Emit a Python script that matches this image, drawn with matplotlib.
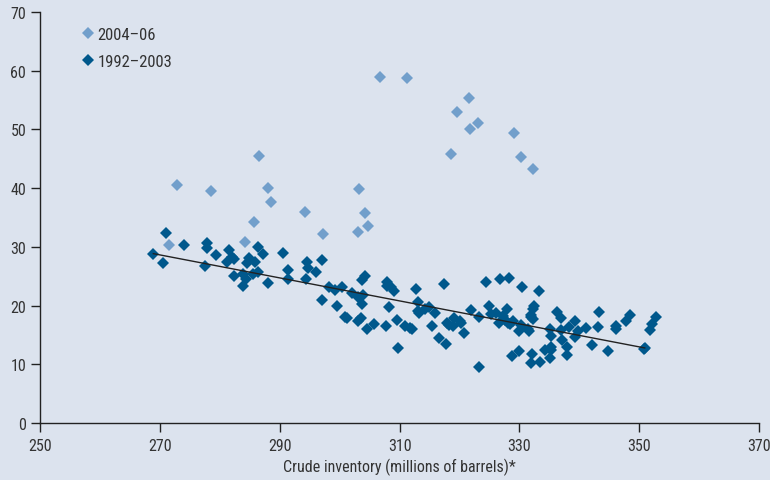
import numpy as np
import matplotlib
matplotlib.use('Agg')
import matplotlib.pyplot as plt

# 2004-06
x_new = [272.8, 271.5, 278.5, 284.2, 285.7, 286.5, 288.0, 288.5, 294.2, 297.2,
         303.0, 303.3, 304.3, 304.7, 306.8, 311.2, 318.5, 319.5, 321.5, 321.7,
         323.0, 329.0, 330.3, 332.3]
y_new = [40.5, 30.3, 39.5, 30.8, 34.2, 45.5, 40.0, 37.6, 35.9, 32.2,
         32.5, 39.9, 35.8, 33.6, 58.9, 58.8, 45.8, 53.0, 55.4, 50.1,
         51.1, 49.4, 45.3, 43.3]

# 1992-2003
x_old = [268.9, 271.05, 270.6, 274.0, 277.8, 277.8, 277.6, 279.4, 281.5, 282.1,
         282.3, 281.2, 282.4, 283.8, 283.8, 284.4, 284.8, 284.6, 285.8, 285.6,
         286.4, 286.4, 287.2, 288.0, 290.5, 291.4, 291.3, 294.6, 294.7, 294.3,
         297.0, 296.1, 298.2, 299.2, 300.4, 297.0, 299.6, 302.0, 303.1, 303.9,
         303.8, 304.2, 303.7, 300.9, 301.2, 303.1, 303.6, 304.5, 305.7, 307.7,
         308.3, 307.9, 307.9, 308.5, 309.1, 309.6, 309.7, 310.9, 311.8, 312.1,
         312.7, 313.0, 313.1, 313.2, 314.3, 314.9, 315.9, 315.4, 316.6, 317.7,
         317.4, 317.9, 318.3, 318.9, 319.1, 320.1, 320.3, 320.7, 321.9, 323.3,
         323.3, 324.4, 324.9, 325.2, 326.1, 326.5, 326.8, 328.2, 327.2, 327.9,
         327.6, 328.1, 328.4, 328.9, 330.4, 333.3, 332.4, 332.3, 332.0, 332.2,
         331.9, 330.3, 330.0, 331.4, 331.6, 328.8, 330.0, 332.1, 332.0, 333.4,
         334.3, 335.2, 335.2, 335.1, 335.1, 335.3, 336.2, 336.9, 337.1, 337.0,
         337.9, 337.9, 338.3, 339.3, 339.8, 339.2, 341.1, 342.1, 343.3, 343.1,
         344.8, 346.1, 346.1, 347.8, 348.5, 350.9, 350.7, 352.7, 352.1, 351.7]
y_old = [28.7, 32.3, 27.2, 30.4, 30.7, 29.8, 26.8, 28.6, 29.4, 28.2,
         28.0, 27.5, 25.1, 25.4, 23.3, 24.5, 28.1, 27.3, 27.5, 25.3,
         30.0, 25.8, 28.8, 23.8, 29.0, 26.1, 24.6, 27.5, 26.4, 24.6,
         27.8, 25.8, 23.2, 22.7, 23.2, 21.0, 20.0, 22.1, 21.5, 21.8,
         20.2, 25.0, 24.4, 18.0, 17.8, 17.4, 17.8, 16.0, 16.9, 16.6,
         19.7, 24.0, 23.4, 23.1, 22.5, 17.5, 12.8, 16.5, 16.1, 16.0,
         22.8, 20.6, 19.0, 18.8, 19.4, 19.7, 18.8, 16.6, 14.4, 13.4,
         23.6, 17.0, 16.7, 16.6, 17.9, 17.4, 17.0, 15.4, 19.3, 9.5,
         18.0, 24.0, 19.9, 18.6, 18.7, 17.0, 24.5, 24.7, 18.3, 19.4,
         17.5, 17.1, 16.8, 17.3, 23.1, 22.4, 19.9, 19.4, 18.4, 17.7,
         18.0, 16.7, 15.7, 16.0, 15.7, 11.4, 12.2, 11.8, 10.2, 10.4,
         12.4, 13.0, 12.4, 11.1, 16.0, 14.9, 18.9, 17.9, 14.1, 15.8,
         13.0, 11.6, 16.4, 17.3, 15.6, 14.6, 16.1, 13.3, 18.9, 16.3,
         12.2, 16.6, 16.0, 17.4, 18.4, 12.8, 12.6, 18.0, 16.9, 15.8]

plt.rcParams['font.family'] = ['Roboto Condensed', 'DejaVu Sans']
bg = '#dce3ee'
dark = '#00588c'
light = '#729fcb'
ink = '#333333'

fig = plt.figure(figsize=(7.7, 4.81), dpi=100, facecolor=bg)
ax = fig.add_axes([0.052, 0.1185, 0.934, 0.8545], facecolor=bg)

ax.plot(x_new, y_new, 'D', color=light, markersize=6.0, markeredgewidth=0, label='2004\u201306')
ax.plot(x_old, y_old, 'D', color=dark, markersize=6.0, markeredgewidth=0, label='1992\u20132003')

# regression line through the 1992-2003 points
b, a = np.polyfit(x_old, y_old, 1)
xl = np.array([min(x_old), 350.9])
ax.plot(xl, a + b * xl, color='#222222', linewidth=1.0)

ax.set_xlim(250, 370)
ax.set_ylim(0, 70)
ax.set_xticks(np.arange(250, 371, 20))
ax.set_yticks(np.arange(0, 71, 10))
for s in ['top', 'right']:
    ax.spines[s].set_visible(False)
for s in ['left', 'bottom']:
    ax.spines[s].set_color('#222222')
    ax.spines[s].set_linewidth(1.0)
ax.tick_params(length=6.5, width=1.0, color='#222222', labelsize=11.5, labelcolor=ink)
ax.tick_params(axis='x', pad=4)
ax.set_xlabel('Crude inventory (millions of barrels)*', fontsize=11.5, color=ink, labelpad=4)

leg = ax.legend(loc='upper left', bbox_to_anchor=(0.05, 0.98), frameon=False,
                handlelength=0.6, handletextpad=0.3, labelspacing=0.7, fontsize=12,
                borderaxespad=0)
for t in leg.get_texts():
    t.set_color(ink)

fig.savefig('out.png', dpi=100, facecolor=bg)
